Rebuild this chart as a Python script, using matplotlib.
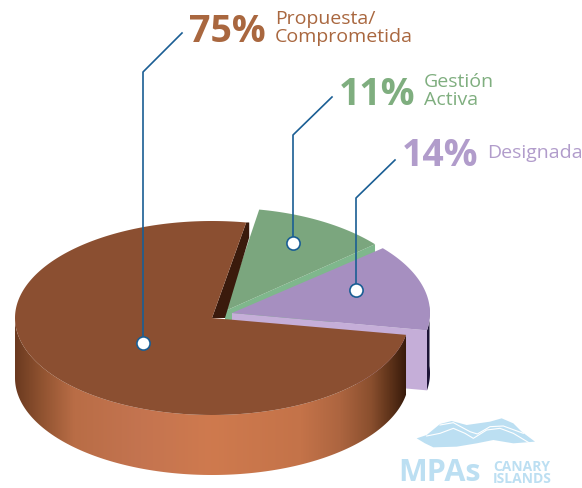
import numpy as np
import matplotlib
matplotlib.use("Agg")
import matplotlib.pyplot as plt
from matplotlib.colors import LinearSegmentedColormap
from matplotlib.patches import Polygon

plt.rcParams['font.family'] = ['Open Sans', 'DejaVu Sans']

# chart values
categories = ["Propuesta/\nComprometida", "Gestión\nActiva", "Designada"]
shares = [75, 11, 14]
share_labels = ["75%", "11%", "14%"]
start_angle = 80
depth = 60

BROWN, GREEN, PURPLE, BLUE = '#8b4f31', '#7ba67e', '#a68fc0', '#1a5e94'
text_colors = ['#a9673f', '#7fae7f', '#b19ccb']


def arc(cx, cy, rx, ry, a0, a1, n=80):
    t = np.radians(np.linspace(a0, a1, n))
    return np.column_stack([cx + rx * np.cos(t), cy - ry * np.sin(t)])


def drop(pts, d=depth):
    return pts + np.array([0, d])


fig = plt.figure(figsize=(5.82, 4.88), dpi=100)
ax = fig.add_axes([0, 0, 1, 1])

sweeps = [s * 3.6 for s in shares]
green_a0, green_a1 = start_angle - sweeps[1], start_angle
purple_a0, purple_a1 = green_a0 - sweeps[2], green_a0
brown_a0, brown_a1 = start_angle, start_angle + sweeps[0]

# purple slice (pulled out)
pc = (232, 313)
p_arc = arc(pc[0], pc[1], 198, 100, purple_a0, purple_a1)
p_out = arc(pc[0], pc[1], 198, 100, purple_a0, min(purple_a1, 4))
ax.add_patch(Polygon(np.vstack([p_out, drop(p_out)[::-1]]), fc='#1d1436', ec='none', zorder=1))
front = np.vstack([[pc], p_arc[:1], drop(p_arc[:1]), drop(np.array([pc]))])
ax.add_patch(Polygon(front, fc='#c5aed8', ec='none', zorder=3))

# green slice, purple covers most of its front face
gc = (225, 311)
g_arc = arc(gc[0], gc[1], 197, 103, green_a0, green_a1)
front = np.vstack([[gc], g_arc[:1], drop(g_arc[:1]), drop(np.array([gc]))])
ax.add_patch(Polygon(front, fc='#7fb78c', ec='none', zorder=2))
ax.add_patch(Polygon(np.vstack([[gc], g_arc]), fc=GREEN, ec='none', zorder=4))
ax.add_patch(Polygon(np.vstack([[pc], p_arc]), fc=PURPLE, ec='none', zorder=5))

# brown slice
bc = (212, 318)
b_arc = arc(bc[0], bc[1], 197, 97, brown_a0, brown_a1, 240)
low = arc(bc[0], bc[1], 197, 97, 180, brown_a1, 160)
side = Polygon(np.vstack([low, drop(low)[::-1]]), fc='none', ec='none', zorder=6)
ax.add_patch(side)
cmap = LinearSegmentedColormap.from_list('side', [
    (0.0, '#6b3a20'), (0.065, '#8f5230'), (0.15, '#b96d46'), (0.32, '#c47450'), (0.5, '#cf7a4e'),
    (0.73, '#c47349'), (0.83, '#ad6540'), (0.91, '#8a4f2e'), (0.96, '#5d3219'), (1.0, '#371a0b')])
im = ax.imshow(np.linspace(0, 1, 256).reshape(1, -1), cmap=cmap, aspect='auto',
               extent=(low[:, 0].min(), low[:, 0].max(), 480, 300), zorder=6)
im.set_clip_path(side)
ax.add_patch(Polygon([bc, (bc[0] + 13, bc[1]), b_arc[0] + [3, 15], b_arc[0] + [3, 0], b_arc[0]],
                     fc='#3a1a0c', ec='none', zorder=6))
ax.add_patch(Polygon(np.vstack([[bc], b_arc]), fc=BROWN, ec='none', zorder=7))

# leaders
leaders_x = [[182, 143, 143], [332, 293, 293], [395, 356, 356]]
leaders_y = [[33, 72, 343], [97, 135, 243], [160, 198, 290]]
for xs, ys in zip(leaders_x, leaders_y):
    ax.plot(xs, ys, color=BLUE, lw=1.2, zorder=8)
    ax.plot(xs[-1], ys[-1], 'o', ms=9.5, mfc='white', mec=BLUE, mew=1.2, zorder=9)

# labels
ax.text(189, 42, share_labels[0], color=text_colors[0], fontsize=27, fontweight='bold')
ax.text(339, 105, share_labels[1], color=text_colors[1], fontsize=27, fontweight='bold')
ax.text(402, 166, share_labels[2], color=text_colors[2], fontsize=27, fontweight='bold')
name_pos = [(275, [24, 42]), (424, [87, 105]), (487, [158])]
for name, (x, ys), c in zip(categories, name_pos, text_colors):
    for line, y in zip(name.split("\n"), ys):
        ax.text(x, y, line, color=c, fontsize=14)

# logo
LOGO = '#bcdff2'
wave = np.array([(80, 85), (110, 75), (150, 42), (185, 33), (230, 45), (300, 35), (335, 25), (370, 40),
                 (395, 65), (435, 95), (370, 100), (310, 90), (260, 100), (200, 110), (130, 112), (105, 100)])
ax.add_patch(Polygon(wave / 3 + [390, 410], fc=LOGO, ec='none', zorder=2))
for line in ([(110, 78), (150, 70), (190, 55), (225, 70), (250, 85), (290, 60), (330, 55), (370, 70), (420, 100)],
             [(150, 45), (190, 38), (240, 65), (262, 72), (300, 50), (340, 48), (400, 70)]):
    line = np.array(line) / 3 + [390, 410]
    ax.plot(line[:, 0], line[:, 1], color='white', lw=0.8, zorder=3)
ax.text(398, 481, "MPAs", color=LOGO, fontsize=22, fontweight='bold')
ax.text(493, 483, "CANARY\nISLANDS", color=LOGO, fontsize=10, fontweight='bold', linespacing=0.85)

ax.set_xlim(0, 582)
ax.set_ylim(488, 0)
ax.axis('off')

fig.savefig("out.png", dpi=100)
